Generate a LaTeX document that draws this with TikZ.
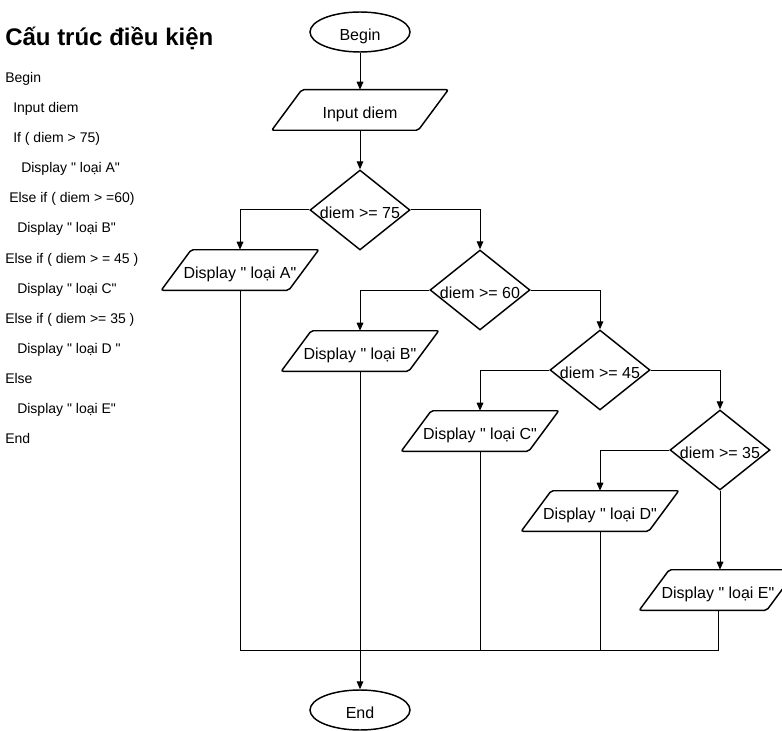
\documentclass[tikz,border=0pt]{standalone}
\usepackage{fontspec}
\setmainfont{Liberation Sans}
\usetikzlibrary{shapes.geometric,arrows.meta}

\newcommand{\qt}{\textquotedbl}

\begin{document}
\begin{tikzpicture}[
  x=0.75pt, y=-0.75pt,
  txt/.style={font=\fontsize{12}{14}\selectfont,text height=13pt,text depth=0pt},
  term/.style={ellipse,draw,line width=1.1pt,minimum width=75pt,minimum height=30pt,inner sep=0pt,txt},
  io/.style={rectangle,minimum width=95.25pt,minimum height=30pt,inner sep=0pt,txt},
  cond/.style={diamond,draw,line width=1.1pt,minimum width=75pt,minimum height=60pt,inner sep=0pt},
  code/.style={anchor=base west,inner sep=0pt,font=\fontsize{10.5}{12}\selectfont},
  arr/.style={-{Triangle[length=6pt,width=5pt]},line width=0.75pt},
  line/.style={line width=0.75pt}
]
\useasboundingbox (0,0) rectangle (782,731);

% pseudo code
\node[anchor=base west,inner sep=0pt,font=\fontsize{18}{20}\selectfont\bfseries] (title) at (5,46) {Cấu trúc điều kiện};
\foreach \ind/\txt [count=\i from 0] in {5/Begin, 13/Input diem, 13/If ( diem > 75), 21/Display \qt{} loại A\qt,
    9/Else if ( diem > =60), 17/Display \qt{} loại B\qt, 5/Else if ( diem > = 45 ), 17/Display \qt{} loại C\qt,
    5/Else if ( diem >= 35 ), 17/Display \qt{} loại D \qt, 5/Else, 17/Display \qt{} loại E\qt, 5/End}
  \node[code] (code\i) at (\ind,{83+30*\i}) {\txt};

% flowchart
\node[term] (start) at (360,32) {Begin};
\node[io,minimum width=109.5pt] (input) at (360,110) {Input diem};
\node[cond,label={[txt]center:{diem >= 75}}] (c75) at (360,210) {};
\node[cond,label={[txt]center:{diem >= 60}}] (c60) at (480,290) {};
\node[cond,label={[txt]center:{diem >= 45}}] (c45) at (600,370) {};
\node[cond,label={[txt]center:{diem >= 35}}] (c35) at (720,450) {};
\node[io] (dA) at (240,270) {Display \qt{} loại A\qt};
\node[io] (dB) at (360,351) {Display \qt{} loại B\qt};
\node[io] (dC) at (480,431) {Display \qt{} loại C\qt};
\node[io] (dD) at (600,511) {Display \qt{} loại D\qt};
\node[io] (dE) at (718,590) {Display \qt{} loại E\qt};
\node[term] (stop) at (360,710) {End};
\coordinate (merge) at (360,650);

% parallelogram outlines
\foreach \n in {input,dA,dB,dC,dD,dE}
  \draw[line width=1.1pt,rounded corners=1.5pt]
    ([xshift=-11.25pt]\n.south west) -- ([xshift=-11.25pt]\n.south east)
    -- ([xshift=11.25pt]\n.north east) -- ([xshift=11.25pt]\n.north west) -- cycle;

\draw[arr] (start) -- (input);
\draw[arr] (input) -- (c75);
\draw[arr] (c75.west) -| (dA.north);
\draw[arr] (c75.east) -| (c60.north);
\draw[arr] (c60.west) -| (dB.north);
\draw[arr] (c60.east) -| (c45.north);
\draw[arr] (c45.west) -| (dC.north);
\draw[arr] (c45.east) -| (c35.north);
\draw[arr] (c35.west) -| (dD.north);
\draw[arr] (c35.south) -- (c35.south |- dE.north);

\draw[line] (dA.south) |- (merge);
\draw[line] (dE.south) |- (merge);
\draw[line] (dC.south) -- (dC.south |- merge);
\draw[line] (dD.south) -- (dD.south |- merge);
\draw[arr] (dB.south) -- (stop.north);
\end{tikzpicture}
\end{document}
